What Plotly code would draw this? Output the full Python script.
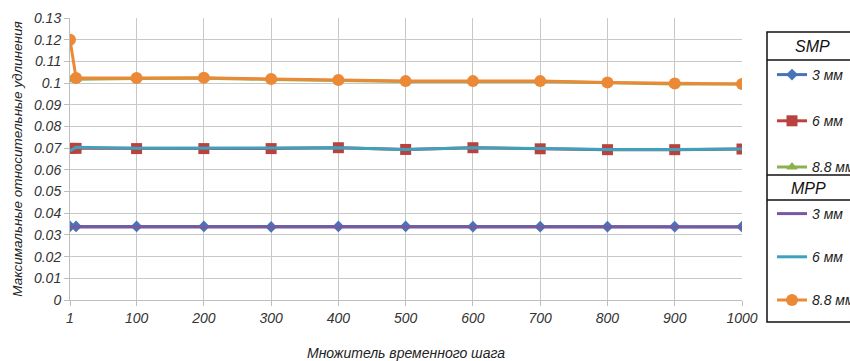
import plotly.graph_objects as go

# Time-step multiplier values
steps = [1, 10, 100, 200, 300, 400, 500, 600, 700, 800, 900, 1000]

# Maximum relative elongations, SMP
smp_3 = [0.0339, 0.0339, 0.0339, 0.0339, 0.0337, 0.0339, 0.0339, 0.0338, 0.0338, 0.0338, 0.0338, 0.0338]
smp_6 = [0.0699, 0.0699, 0.0698, 0.0698, 0.0698, 0.0702, 0.0694, 0.0702, 0.0697, 0.0693, 0.0693, 0.0696]
smp_88 = [0.1015, 0.1018, 0.1021, 0.1022, 0.1017, 0.1012, 0.1007, 0.1007, 0.1007, 0.1001, 0.0996, 0.0996]

# Maximum relative elongations, MPP
mpp_3 = [0.0337, 0.0337, 0.0337, 0.0337, 0.0336, 0.0337, 0.0337, 0.0337, 0.0337, 0.0336, 0.0337, 0.0337]
mpp_6 = [0.0687, 0.0704, 0.0699, 0.0699, 0.0699, 0.0702, 0.0694, 0.0702, 0.0698, 0.0694, 0.0694, 0.0696]
mpp_88 = [0.1200, 0.1023, 0.1023, 0.1025, 0.1019, 0.1014, 0.1009, 0.1009, 0.1009, 0.1003, 0.0998, 0.0996]

x_ticks = [1, 100, 200, 300, 400, 500, 600, 700, 800, 900, 1000]
y_ticks = [0, 0.01, 0.02, 0.03, 0.04, 0.05, 0.06, 0.07, 0.08, 0.09, 0.1, 0.11, 0.12, 0.13]
y_tick_text = ["0", "0.01", "0.02", "0.03", "0.04", "0.05", "0.06", "0.07", "0.08",
               "0.09", "0.1", "0.11", "0.12", "0.13"]

FONT = "Liberation Sans Narrow, Liberation Sans, sans-serif"

fig = go.Figure()

series = [
    ("3 мм", smp_3, "#4674B8", dict(symbol="diamond", size=9), "legend", "s3"),
    ("6 мм", smp_6, "#B9423F", dict(symbol="square", size=11), "legend", "s6"),
    ("8.8 мм", smp_88, "#8DB14A", dict(symbol="triangle-up", size=10), "legend", "s8"),
    ("3 мм", mpp_3, "#7859A0", None, "legend2", "m3"),
    ("6 мм", mpp_6, "#3DA2BE", None, "legend2", "m6"),
    ("8.8 мм", mpp_88, "#EB8936", dict(symbol="circle", size=12), "legend2", "m8"),
]

for name, ys, color, marker, leg, grp in series:
    kw = dict(mode="lines+markers", marker=dict(color=color, **marker)) if marker else dict(mode="lines")
    fig.add_trace(go.Scatter(
        x=steps, y=ys, name=name, legend=leg, legendgroup=grp,
        line=dict(color=color, width=3), **kw,
    ))


def py(px):
    # pixel row -> paper y (plot area spans rows 18..300)
    return (300 - px) / 282


def pxx(px):
    # pixel column -> paper x (plot area spans columns 70..742)
    return (px - 70) / 672


def legend_cfg(top, gap):
    return dict(
        x=pxx(772), xanchor="left", y=top, yanchor="top",
        bgcolor="rgba(0,0,0,0)", borderwidth=0,
        font=dict(family=FONT, size=14, color="#222", style="italic"),
        tracegroupgap=gap, itemwidth=30, traceorder="grouped",
    )


# Legend frame and dividers
frame = dict(color="#111", width=1.5)
shapes = [
    dict(type="rect", xref="paper", yref="paper", x0=pxx(767), x1=pxx(900),
         y0=py(322), y1=py(32), line=frame),
    dict(type="line", xref="paper", yref="paper", x0=pxx(767), x1=pxx(900),
         y0=py(60), y1=py(60), line=frame),
    dict(type="line", xref="paper", yref="paper", x0=pxx(767), x1=pxx(900),
         y0=py(175), y1=py(175), line=frame),
    dict(type="line", xref="paper", yref="paper", x0=pxx(767), x1=pxx(900),
         y0=py(200), y1=py(200), line=frame),
]

annotations = [
    dict(text="SMP", xref="paper", yref="paper", x=pxx(812), y=py(46),
         xanchor="center", yanchor="middle", showarrow=False,
         font=dict(family=FONT, size=16, color="#111", style="italic")),
    dict(text="MPP", xref="paper", yref="paper", x=pxx(808), y=py(188),
         xanchor="center", yanchor="middle", showarrow=False,
         font=dict(family=FONT, size=16, color="#111", style="italic")),
]

axis_font = dict(family=FONT, size=14, color="#333", style="italic")

fig.update_layout(
    width=850, height=361,
    margin=dict(l=70, r=108, t=18, b=61, autoexpand=False),
    paper_bgcolor="white", plot_bgcolor="white",
    showlegend=True,
    legend=legend_cfg(py(59), 25),
    legend2=legend_cfg(py(198), 22),
    shapes=shapes,
    annotations=annotations,
    xaxis=dict(
        range=[1, 1000], tickmode="array", tickvals=x_ticks,
        ticktext=[str(v) for v in x_ticks],
        showgrid=True, gridcolor="#C8C8C8", gridwidth=1,
        showline=True, linecolor="#BEBEBE", linewidth=1,
        ticks="outside", ticklen=5, tickcolor="#BEBEBE",
        tickfont=axis_font, zeroline=False,
        title=dict(text="Множитель временного шага", standoff=24,
                   font=dict(family=FONT, size=14, color="#222", style="italic")),
    ),
    yaxis=dict(
        range=[0, 0.13], tickmode="array", tickvals=y_ticks, ticktext=y_tick_text,
        showgrid=True, gridcolor="#C8C8C8", gridwidth=1,
        showline=True, linecolor="#BEBEBE", linewidth=1,
        ticks="outside", ticklen=5, tickcolor="#BEBEBE",
        tickfont=axis_font, zeroline=False,
        title=dict(text="Максимальные относительные удлинения", standoff=8,
                   font=dict(family=FONT, size=13.5, color="#222", style="italic")),
    ),
)

fig.write_html("out.html")
